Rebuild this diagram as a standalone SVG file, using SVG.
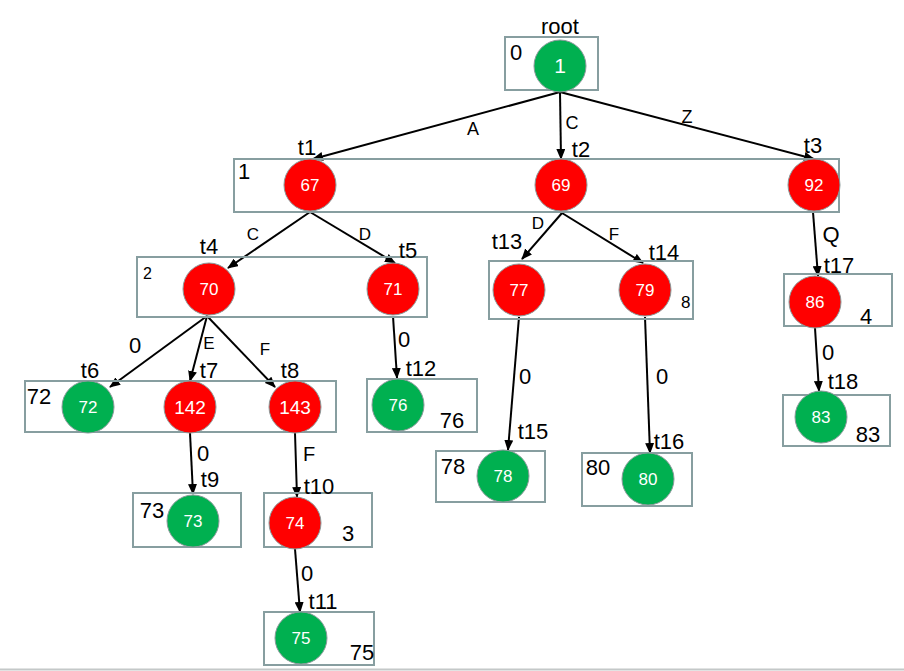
<svg xmlns="http://www.w3.org/2000/svg" width="904" height="671" viewBox="0 0 904 671">
<defs>
<marker id="ah" markerUnits="userSpaceOnUse" markerWidth="11" markerHeight="9" refX="10" refY="4.5" orient="auto">
<path d="M0,0 L11,4.5 L0,9 z" fill="#000"/>
</marker>
<style>
text{font-family:"Liberation Sans",Arial,sans-serif;fill:#000}
.box{fill:none;stroke:#879ea0;stroke-width:2}
.g{fill:#00b050;stroke:#8a9a9a;stroke-width:1}
.r{fill:#ff0000;stroke:#8a9a9a;stroke-width:1}
.ct{fill:#fff;font-size:17px;text-anchor:middle}
.big{font-size:19px}
.one{font-size:21px}
.t{font-size:22px;text-anchor:middle}
.bl{font-size:22px;text-anchor:middle}
.ea{font-size:18px;text-anchor:middle}
.el{font-size:17px;text-anchor:middle}
.el2{font-size:22px;text-anchor:middle}
.sm{font-size:16px}
.e{stroke:#000;stroke-width:2;fill:none;marker-end:url(#ah)}
</style>
</defs>
<rect width="904" height="671" fill="#fff"/>
<line x1="0" y1="669.5" x2="904" y2="669.5" stroke="#c4c8c8" stroke-width="2"/>

<g id="connectors">
<line class="e" x1="560" y1="92" x2="313" y2="159"/>
<line class="e" x1="560" y1="92" x2="561" y2="159"/>
<line class="e" x1="560" y1="92" x2="814" y2="159"/>
<line class="e" x1="310" y1="212" x2="228" y2="268"/>
<line class="e" x1="310" y1="212" x2="395" y2="263"/>
<line class="e" x1="562" y1="213" x2="522" y2="259"/>
<line class="e" x1="562" y1="213" x2="643" y2="263"/>
<line class="e" x1="813" y1="212" x2="818" y2="276"/>
<line class="e" x1="207" y1="316" x2="110" y2="387"/>
<line class="e" x1="207" y1="316" x2="190" y2="381"/>
<line class="e" x1="207" y1="316" x2="275" y2="387"/>
<line class="e" x1="393" y1="316" x2="397" y2="378"/>
<line class="e" x1="190" y1="433" x2="193" y2="494"/>
<line class="e" x1="295" y1="433" x2="297" y2="497"/>
<line class="e" x1="295" y1="549" x2="300" y2="612"/>
<line class="e" x1="519" y1="317" x2="508" y2="450"/>
<line class="e" x1="645" y1="317" x2="650" y2="453"/>
<line class="e" x1="815" y1="328" x2="819" y2="391"/>
<text class="ea" x="473" y="135">A</text>
<text class="ea" x="572" y="129">C</text>
<text class="ea" x="687" y="123">Z</text>
<text class="el" x="253" y="240">C</text>
<text class="el" x="365" y="240">D</text>
<text class="el" x="538" y="229">D</text>
<text class="el" x="614" y="240">F</text>
<text class="el2" x="831" y="242">Q</text>
<text class="el2" x="135" y="353">0</text>
<text class="el" x="209" y="349">E</text>
<text class="el" x="265" y="355">F</text>
<text class="el2" x="404" y="347">0</text>
<text class="el2" x="203" y="461">0</text>
<text class="el2" x="309" y="461" style="font-size:20px">F</text>
<text class="el2" x="307" y="581">0</text>
<text class="el2" x="525" y="384">0</text>
<text class="el2" x="662" y="384">0</text>
<text class="el2" x="828" y="360">0</text>
</g>

<g id="box0">
<rect class="box" x="505" y="37" width="93" height="53"/>
<text class="t" x="560" y="34">root</text>
<text class="bl" x="516" y="60">0</text>
</g>
<g id="n1"><circle class="g" cx="560" cy="66" r="26"/><text class="ct one" x="560" y="73">1</text></g>

<g id="box1">
<rect class="box" x="234" y="159" width="605" height="53"/>
<text class="bl" x="244" y="179">1</text>
</g>
<g id="n67"><circle class="r" cx="310" cy="185" r="26"/><text class="ct" x="310" y="191">67</text><text class="t" x="307" y="155">t1</text></g>
<g id="n69"><circle class="r" cx="561" cy="185" r="26"/><text class="ct" x="561" y="191">69</text><text class="t" x="581" y="157">t2</text></g>
<g id="n92"><circle class="r" cx="814" cy="185" r="26"/><text class="ct" x="814" y="191">92</text><text class="t" x="813" y="153">t3</text></g>

<g id="box2">
<rect class="box" x="137" y="257" width="290" height="60"/>
<text class="sm" x="143" y="279">2</text>
</g>
<g id="n70"><circle class="r" cx="209" cy="289" r="26"/><text class="ct" x="209" y="295">70</text><text class="t" x="209" y="254">t4</text></g>
<g id="n71"><circle class="r" cx="393" cy="289" r="26"/><text class="ct" x="393" y="295">71</text><text class="t" x="408" y="258">t5</text></g>

<g id="box8">
<rect class="box" x="489" y="261" width="204" height="58"/>
<text class="sm" x="681" y="308" style="font-size:17px">8</text>
</g>
<g id="n77"><circle class="r" cx="519" cy="290" r="26"/><text class="ct" x="519" y="296">77</text><text class="t" x="507" y="249">t13</text></g>
<g id="n79"><circle class="r" cx="645" cy="290" r="26"/><text class="ct" x="645" y="296">79</text><text class="t" x="664" y="260">t14</text></g>

<g id="box4">
<rect class="box" x="784" y="274" width="108" height="52"/>
<text class="bl" x="866" y="324">4</text>
</g>
<g id="n86"><circle class="r" cx="815" cy="302" r="26"/><text class="ct" x="815" y="308">86</text><text class="t" x="839" y="273">t17</text></g>

<g id="box72">
<rect class="box" x="25" y="381" width="311" height="51"/>
<text class="bl" x="39" y="404">72</text>
</g>
<g id="n72"><circle class="g" cx="88" cy="407" r="26"/><text class="ct" x="88" y="413">72</text><text class="t" x="90" y="378">t6</text></g>
<g id="n142"><circle class="r" cx="190" cy="407" r="26"/><text class="ct big" x="190" y="414">142</text><text class="t" x="209" y="378">t7</text></g>
<g id="n143"><circle class="r" cx="295" cy="407" r="26"/><text class="ct big" x="295" y="414">143</text><text class="t" x="290" y="378">t8</text></g>

<g id="box76">
<rect class="box" x="367" y="379" width="110" height="53"/>
<text class="bl" x="452" y="428">76</text>
</g>
<g id="n76"><circle class="g" cx="398" cy="405" r="26"/><text class="ct" x="398" y="411">76</text><text class="t" x="421" y="376">t12</text></g>

<g id="box83">
<rect class="box" x="783" y="395" width="107" height="51"/>
<text class="bl" x="868" y="442">83</text>
</g>
<g id="n83"><circle class="g" cx="821" cy="417" r="26"/><text class="ct" x="821" y="423">83</text><text class="t" x="843" y="389">t18</text></g>

<g id="box78">
<rect class="box" x="436" y="451" width="109" height="51"/>
<text class="bl" x="453" y="474">78</text>
</g>
<g id="n78"><circle class="g" cx="503" cy="476" r="26"/><text class="ct" x="503" y="482">78</text><text class="t" x="533" y="439">t15</text></g>

<g id="box80">
<rect class="box" x="582" y="453" width="110" height="53"/>
<text class="bl" x="598" y="475">80</text>
</g>
<g id="n80"><circle class="g" cx="648" cy="479" r="26"/><text class="ct" x="648" y="485">80</text><text class="t" x="669" y="449">t16</text></g>

<g id="box73">
<rect class="box" x="133" y="493" width="108" height="54"/>
<text class="bl" x="152" y="518">73</text>
</g>
<g id="n73"><circle class="g" cx="193" cy="521" r="26"/><text class="ct" x="193" y="527">73</text><text class="t" x="210" y="487">t9</text></g>

<g id="box3">
<rect class="box" x="264" y="493" width="108" height="54"/>
<text class="bl" x="348" y="541">3</text>
</g>
<g id="n74"><circle class="r" cx="295" cy="523" r="26"/><text class="ct" x="295" y="529">74</text><text class="t" x="319" y="494">t10</text></g>

<g id="box75">
<rect class="box" x="264" y="612" width="110" height="53"/>
<text class="bl" x="362" y="660">75</text>
</g>
<g id="n75"><circle class="g" cx="301" cy="638" r="26"/><text class="ct" x="301" y="644">75</text><text class="t" x="323" y="609">t11</text></g>
</svg>
